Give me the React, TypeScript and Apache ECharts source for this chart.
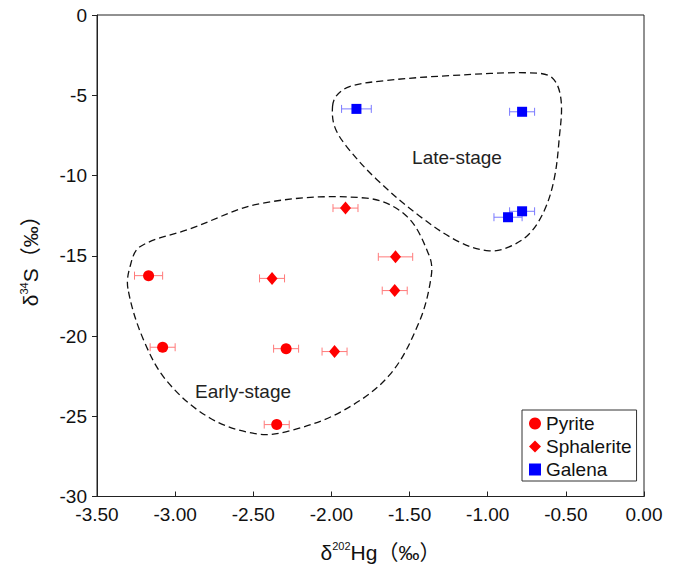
import React, { useEffect, useRef } from "react";
import * as echarts from "echarts";

// Pyrite
const pyriteX = [-3.17, -3.08, -2.29, -2.35];
const pyriteY = [-16.24, -20.7, -20.79, -25.52];
const pyriteErr = [0.09, 0.08, 0.08, 0.08];
// Sphalerite
const sphaleriteX = [-1.91, -1.59, -1.595, -2.38, -1.98];
const sphaleriteY = [-12.03, -15.07, -17.17, -16.41, -20.97];
const sphaleriteErr = [0.08, 0.11, 0.08, 0.08, 0.08];
// Galena
const galenaX = [-1.84, -0.78, -0.78, -0.87];
const galenaY = [-5.85, -6.03, -12.23, -12.6];
const galenaErr = [0.095, 0.08, 0.08, 0.09];

const seriesNames = ["Pyrite", "Sphalerite", "Galena"];

// Field outlines (data coordinates)
const earlyOutline: number[][] = [
  [-3.302, -17.05], [-3.289, -15.69], [-3.225, -14.44], [-2.906, -13.33],
  [-2.44, -11.72], [-1.776, -11.41], [-1.52, -12.52], [-1.374, -15.0],
  [-1.361, -16.24], [-1.437, -19.09], [-1.629, -22.44], [-1.929, -24.67],
  [-2.268, -25.91], [-2.478, -26.1], [-2.778, -25.11], [-3.053, -22.81],
  [-3.206, -20.15],
];
const lateOutline: number[][] = [
  [-1.993, -5.7], [-1.967, -5.02], [-1.884, -4.46], [-1.661, -4.09],
  [-1.246, -3.78], [-0.735, -3.6], [-0.588, -3.91], [-0.531, -5.27],
  [-0.543, -7.75], [-0.575, -10.23], [-0.639, -12.21], [-0.735, -13.64],
  [-0.863, -14.45], [-0.99, -14.69], [-1.182, -14.14], [-1.437, -12.52],
  [-1.712, -10.23], [-1.904, -8.18], [-1.98, -6.94],
];

const FONT = "Arial, 'Liberation Sans', 'Noto Sans CJK SC', sans-serif";

function zip(xs: number[], ys: number[], es?: number[]) {
  return xs.map((x, i) => (es ? [x, ys[i], es[i]] : [x, ys[i]]));
}

function errorSeries(data: number[][], color: string) {
  return {
    type: "custom",
    silent: true,
    z: 1,
    encode: { x: 0, y: 1 },
    data,
    renderItem: (params: any, api: any) => {
      const x = api.value(0);
      const y = api.value(1);
      const e = api.value(2);
      const l = api.coord([x - e, y]);
      const r = api.coord([x + e, y]);
      const style = { stroke: color, lineWidth: 1 };
      return {
        type: "group",
        children: [
          { type: "line", shape: { x1: l[0], y1: l[1], x2: r[0], y2: r[1] }, style },
          { type: "line", shape: { x1: l[0], y1: l[1] - 4, x2: l[0], y2: l[1] + 4 }, style },
          { type: "line", shape: { x1: r[0], y1: r[1] - 4, x2: r[0], y2: r[1] + 4 }, style },
        ],
      };
    },
  };
}

function outlineSeries(pts: number[][]) {
  return {
    type: "custom",
    silent: true,
    z: 0,
    encode: { x: 0, y: 1 },
    data: [pts[0]],
    renderItem: (params: any, api: any) => ({
      type: "polygon",
      shape: { points: pts.map((p) => api.coord(p)), smooth: 0.35 },
      style: { fill: "none", stroke: "#111", lineWidth: 1.3, lineDash: [7, 4] },
    }),
  };
}

export default function App() {
  const ref = useRef<HTMLDivElement>(null);
  useEffect(() => {
    if (!ref.current) return;
    const chart = echarts.init(ref.current, undefined, { renderer: "svg" });
    const axisColor = "#222";
    const rich = {
      a: { fontSize: 21, color: "#111", fontFamily: FONT, lineHeight: 24 },
      b: { fontSize: 11, color: "#111", fontFamily: FONT, verticalAlign: "top", lineHeight: 24 },
    };
    chart.setOption({
      animation: false,
      backgroundColor: "#fff",
      textStyle: { fontFamily: FONT },
      grid: {
        left: 97,
        right: 36,
        top: 15,
        bottom: 69,
        show: true,
        borderColor: axisColor,
        borderWidth: 1,
      },
      legend: {
        data: seriesNames,
        orient: "vertical",
        left: 522,
        top: 410,
        borderColor: "#333",
        borderWidth: 1,
        padding: [4, 5, 2, 7],
        itemGap: 4,
        itemWidth: 12,
        itemHeight: 12,
        textStyle: { fontSize: 19, color: "#111", fontFamily: FONT },
      },
      xAxis: {
        type: "value",
        min: -3.5,
        max: 0,
        interval: 0.5,
        splitLine: { show: false },
        axisLine: { onZero: false, lineStyle: { color: axisColor } },
        axisTick: { inside: true, length: 5, lineStyle: { color: axisColor } },
        axisLabel: {
          color: "#111",
          fontSize: 19,
          margin: 8,
          formatter: (v: number) => v.toFixed(2),
        },
        name: "{a|δ}{b|202}{a|Hg（‰）}",
        nameLocation: "middle",
        nameGap: 44,
        nameTextStyle: { rich, padding: [0, 0, 0, 20] },
      },
      yAxis: {
        type: "value",
        min: -30,
        max: 0,
        interval: 5,
        splitLine: { show: false },
        axisLine: { onZero: false, lineStyle: { color: axisColor } },
        axisTick: { inside: false, length: 5, lineStyle: { color: axisColor } },
        axisLabel: { color: "#111", fontSize: 19, margin: 10 },
        name: "{a|δ}{b|34}{a|S（‰）}",
        nameLocation: "middle",
        nameRotate: 90,
        nameGap: 55,
        nameTextStyle: { rich },
      },
      graphic: [
        {
          type: "text",
          x: 243,
          y: 391,
          style: {
            text: "Early-stage",
            font: `19px ${FONT}`,
            fill: "#222",
            textAlign: "center",
            textVerticalAlign: "middle",
          },
        },
        {
          type: "text",
          x: 457,
          y: 157,
          style: {
            text: "Late-stage",
            font: `19px ${FONT}`,
            fill: "#222",
            textAlign: "center",
            textVerticalAlign: "middle",
          },
        },
      ],
      series: [
        outlineSeries(earlyOutline),
        outlineSeries(lateOutline),
        errorSeries(zip(pyriteX, pyriteY, pyriteErr), "#ff7a7a"),
        errorSeries(zip(sphaleriteX, sphaleriteY, sphaleriteErr), "#ff7a7a"),
        errorSeries(zip(galenaX, galenaY, galenaErr), "#7a7aff"),
        {
          name: "Pyrite",
          type: "scatter",
          symbol: "circle",
          symbolSize: 11,
          z: 3,
          itemStyle: { color: "#ff0000", opacity: 1 },
          data: zip(pyriteX, pyriteY),
        },
        {
          name: "Sphalerite",
          type: "scatter",
          symbol: "diamond",
          symbolSize: [11, 13],
          z: 3,
          itemStyle: { color: "#ff0000", opacity: 1 },
          data: zip(sphaleriteX, sphaleriteY),
        },
        {
          name: "Galena",
          type: "scatter",
          symbol: "rect",
          symbolSize: 10,
          z: 3,
          itemStyle: { color: "#0000ff", opacity: 1 },
          data: zip(galenaX, galenaY),
        },
      ],
    });
    return () => chart.dispose();
  }, []);
  return (
    <div
      ref={ref}
      style={{ position: "absolute", left: 0, top: 0, width: 680, height: 568 }}
    />
  );
}
